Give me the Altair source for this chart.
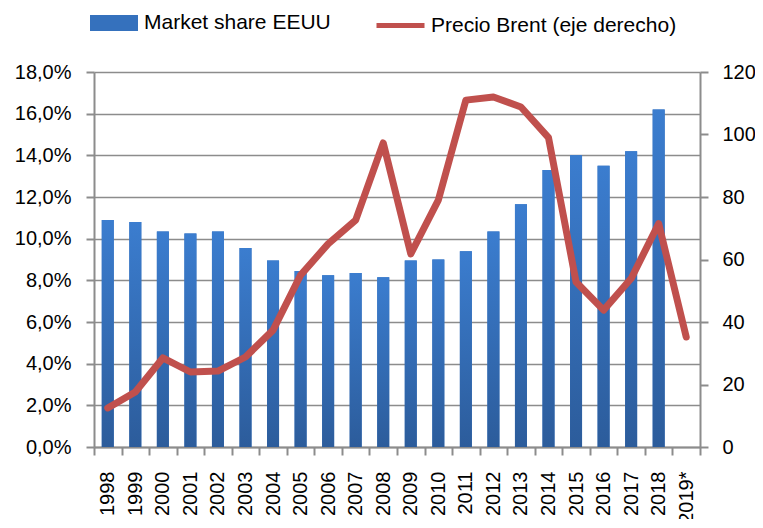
import altair as alt
import pandas as pd

years = ["1998", "1999", "2000", "2001", "2002", "2003", "2004", "2005", "2006", "2007",
         "2008", "2009", "2010", "2011", "2012", "2013", "2014", "2015", "2016", "2017",
         "2018", "2019*"]
market_share = [10.9, 10.8, 10.35, 10.25, 10.35, 9.55, 8.95, 8.45, 8.25, 8.35,
                8.15, 8.95, 9.0, 9.4, 10.35, 11.65, 13.3, 14.0, 13.5, 14.2,
                16.2, None]
brent = [12.5, 17.6, 28.5, 24.0, 24.3, 28.8, 37.4, 55.0, 65.0, 72.6,
         97.3, 61.8, 79.0, 111.0, 112.0, 108.8, 99.0, 52.8, 43.8, 53.9,
         71.5, 35.2]
left_ticks = [0, 2, 4, 6, 8, 10, 12, 14, 16, 18]
right_ticks = [0, 20, 40, 60, 80, 100, 120]

df = pd.DataFrame({"year": years, "share": market_share, "brent": brent})

FONT = "Liberation Sans"
GRAY = "#8c8c8c"

x = alt.X("year:N", sort=years, title=None,
          scale=alt.Scale(paddingInner=0, paddingOuter=0),
          axis=alt.Axis(labelAngle=270, labelAlign="right", labelBaseline="middle",
                        labelFontSize=20, labelFont=FONT, labelColor="#000000",
                        labelPadding=16, tickBand="extent", tickSize=8,
                        tickColor=GRAY, tickWidth=2, domainColor=GRAY, domainWidth=2,
                        grid=False))

left_axis = alt.Axis(values=left_ticks, orient="left",
                     labelExpr="replace(format(datum.value, '.1f'), '.', ',') + '%'",
                     labelFontSize=20, labelFont=FONT, labelColor="#000000",
                     labelAlign="right", labelBaseline="middle",
                     labelPadding=15, tickSize=8, tickColor=GRAY, tickWidth=2,
                     domainColor=GRAY, domainWidth=2,
                     grid=True, gridColor=GRAY, gridWidth=1.6)

y_left = alt.Y("share:Q", title=None,
               scale=alt.Scale(domain=[0, 18], nice=False), axis=left_axis)

gradient = alt.Gradient(
    gradient="linear",
    stops=[alt.GradientStop(color="#3b7dcf", offset=0),
           alt.GradientStop(color="#2c5c9b", offset=1)],
    x1=0, x2=0, y1=0, y2=1,
)

bars_legend = alt.Chart(df).mark_bar(size=12).encode(
    x=x,
    y=y_left,
    fill=alt.Fill("label:N",
                  scale=alt.Scale(domain=["Market share EEUU"], range=["#3571bd"]),
                  legend=alt.Legend(title=None, orient="none", legendX=-4, legendY=-73,
                                    symbolType="M-1,-0.333H1V0.333H-1Z", symbolSize=2304,
                                    symbolStrokeWidth=0, labelFontSize=21, labelFont=FONT,
                                    labelColor="#000000", labelOffset=6, labelLimit=600,
                                    padding=0)),
).transform_calculate(label="'Market share EEUU'")

bars = alt.Chart(df).mark_bar(size=12, fill=gradient).encode(
    x=x,
    y=y_left,
)

bar_layer = alt.layer(bars_legend, bars)

line = alt.Chart(df).mark_line(strokeWidth=7, strokeCap="round", strokeJoin="round").encode(
    x=x,
    y=alt.Y("brent:Q", title=None,
            scale=alt.Scale(domain=[0, 120], nice=False),
            axis=alt.Axis(values=right_ticks, orient="right",
                          labelFontSize=20, labelFont=FONT, labelColor="#000000",
                          labelAlign="left", labelBaseline="middle",
                          labelPadding=14, tickSize=8, tickColor=GRAY, tickWidth=2,
                          domainColor=GRAY, domainWidth=2, grid=False)),
    stroke=alt.Stroke("label:N",
                      scale=alt.Scale(domain=["Precio Brent (eje derecho)"], range=["#c0504d"]),
                      legend=alt.Legend(title=None, orient="none", legendX=280, legendY=-73,
                                        symbolType="stroke", symbolSize=2304,
                                        symbolStrokeWidth=5, labelFontSize=21, labelFont=FONT,
                                        labelColor="#000000", labelOffset=4, labelLimit=600,
                                        padding=0)),
).transform_calculate(label="'Precio Brent (eje derecho)'")

chart = alt.layer(bar_layer, line).resolve_scale(
    y="independent", fill="independent", stroke="independent"
).properties(
    width=606, height=375,
    autosize=alt.AutoSizeParams(type="none"),
    padding={"left": 86, "top": 64, "right": 55, "bottom": 72},
).configure_view(stroke=None)

chart.save("out.html", embed_options={"renderer": "svg", "actions": False})
